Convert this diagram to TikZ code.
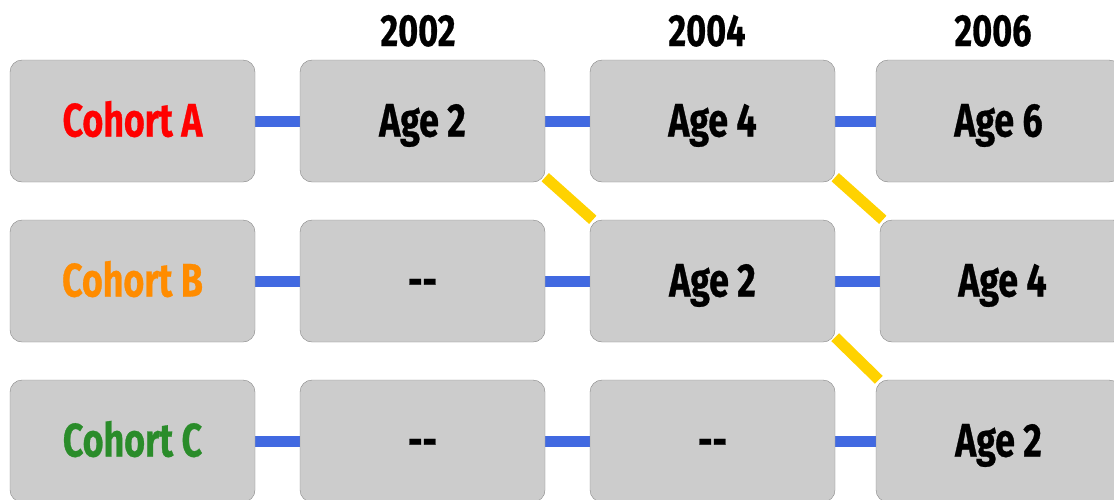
\documentclass[tikz,border=0pt]{standalone}
\usepackage{fontspec}
\usepackage{xcolor}
\usepackage{tikz}
\usetikzlibrary{backgrounds}
\newfontfamily\condfont[FakeStretch=0.76, FakeBold=0.6]{Fira Sans}
\definecolor{boxgray}{HTML}{CCCCCC}
\definecolor{boxedge}{HTML}{858585}
\definecolor{linkblue}{HTML}{4169E1}
\definecolor{linkgold}{HTML}{FFD200}
\definecolor{cohortred}{HTML}{FF0000}
\definecolor{cohortorange}{HTML}{FF8C00}
\definecolor{cohortgreen}{HTML}{2A8C2A}
\tikzset{
	cellbox/.style = {draw = boxedge, fill = boxgray, rounded corners = 12pt,
		minimum width = 245pt, minimum height = 122pt, inner sep = 0pt,
		text height = 31pt, text depth = 0pt,
		font = \condfont\bfseries\fontsize{47}{50}\selectfont},
	yearlabel/.style = {anchor = base, inner sep = 0pt,
		font = \condfont\bfseries\fontsize{45}{50}\selectfont},
	samelink/.style = {linkblue, line width = 11pt},
	nextlink/.style = {linkgold, line width = 11pt}
}

\begin{document}
\begin{tikzpicture}[x = 1pt, y = -1pt]
	\useasboundingbox (0,0) rectangle (1114,499);
	
	% years
	\node [yearlabel] (y2002) at (418,46) {2002};
	\node [yearlabel] (y2004) at (707,46) {2004};
	\node [yearlabel] (y2006) at (993,46) {2006};
	
	% cohort A
	\node [cellbox, text = cohortred] (cA) at (132.5,121) {Cohort A};
	\node [cellbox] (a1) at (422.5,121) {Age 2};
	\node [cellbox] (a2) at (712.5,121) {Age 4};
	\node [cellbox] (a3) at (998.5,121) {Age 6};
	
	% cohort B
	\node [cellbox, text = cohortorange] (cB) at (132.5,281) {Cohort B};
	\node [cellbox] (b1) at (422.5,281) {--};
	\node [cellbox] (b2) at (712.5,281) {Age 2};
	\node [cellbox] (b3) at (1002.5,281) {Age 4};
	
	% cohort C
	\node [cellbox, text = cohortgreen] (cC) at (132.5,441) {Cohort C};
	\node [cellbox] (c1) at (422.5,441) {--};
	\node [cellbox] (c2) at (712.5,441) {--};
	\node [cellbox] (c3) at (998.5,441) {Age 2};
	
	\begin{scope}[on background layer]
		\draw [samelink] (cA) -- (a1) -- (a2) -- (a3);
		\draw [samelink] (cB) -- (b1) -- (b2) -- (b3);
		\draw [samelink] (cC) -- (c1) -- (c2) -- (c3);
		
		\draw [nextlink] ([yshift=5pt]a1.south east) -- ([xshift=3pt]b2.north west);
		\draw [nextlink] ([yshift=5pt]a2.south east) -- ([xshift=3pt]b3.north west);
		\draw [nextlink] ([yshift=5pt]b2.south east) -- ([xshift=3pt]c3.north west);
	\end{scope}
\end{tikzpicture}
\end{document}
